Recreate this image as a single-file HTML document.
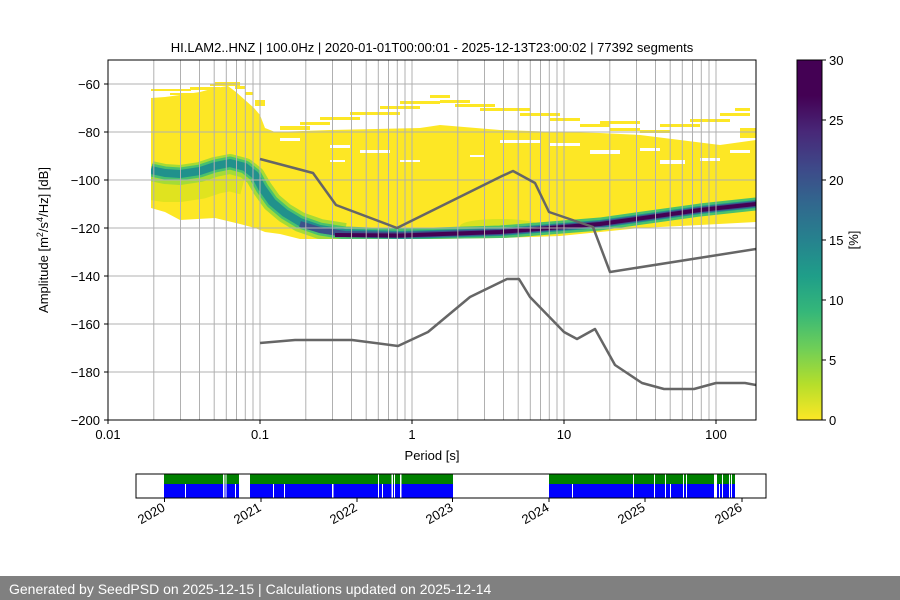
<!DOCTYPE html>
<html><head><meta charset="utf-8"><style>
body{margin:0;background:#fff}
svg{display:block;font-family:"Liberation Sans","DejaVu Sans",sans-serif}
</style></head><body>
<svg width="900" height="600" viewBox="0 0 900 600" xmlns="http://www.w3.org/2000/svg">
<defs>
<clipPath id="ax"><rect x="108" y="60" width="648" height="360"/></clipPath>
<clipPath id="dat"><polygon points="151,98 165,97 180,95 200,92 215,88 228,86 236,92 245,100 254,108 260,115 265,128 275,132 330,130 420,128 440,125 500,130 560,132 600,133 640,135 680,140 720,145 756,140 756,222 700,225 640,228 600,232 560,236 500,238 430,239 300,239 280,234 265,232 255,228 240,224 215,218 180,220 165,212 151,208"/></clipPath>
<linearGradient id="cb" x1="0" y1="1" x2="0" y2="0">
<stop offset="0" stop-color="#fde725"/><stop offset="0.1" stop-color="#b5de2b"/><stop offset="0.2" stop-color="#6ece58"/><stop offset="0.3" stop-color="#35b779"/><stop offset="0.4" stop-color="#1f9e89"/><stop offset="0.5" stop-color="#26828e"/><stop offset="0.6" stop-color="#31688e"/><stop offset="0.7" stop-color="#3e4989"/><stop offset="0.8" stop-color="#482878"/><stop offset="0.9" stop-color="#440154"/><stop offset="1" stop-color="#440154"/>
</linearGradient>
</defs>
<text x="432" y="52" font-size="13" text-anchor="middle">HI.LAM2..HNZ | 100.0Hz | 2020-01-01T00:00:01 - 2025-12-13T23:00:02 | 77392 segments</text>
<g clip-path="url(#ax)">
<polygon fill="#fde725" points="151,98 165,97 180,95 200,92 215,88 228,86 236,92 245,100 254,108 260,115 265,128 275,132 330,130 420,128 440,125 500,130 560,132 600,133 640,135 680,140 720,145 756,140 756,222 700,225 640,228 600,232 560,236 500,238 430,239 300,239 280,234 265,232 255,228 240,224 215,218 180,220 165,212 151,208"/>
<g fill="#fde725">
<rect x="151" y="89" width="40" height="2"/><rect x="170" y="93" width="30" height="2"/><rect x="190" y="87" width="30" height="3"/><rect x="210" y="84" width="30" height="2"/><rect x="215" y="82" width="25" height="2"/><rect x="235" y="86" width="10" height="3"/><rect x="245" y="92" width="8" height="3"/><rect x="255" y="100" width="10" height="6"/>
<rect x="280" y="126" width="30" height="4"/><rect x="300" y="122" width="30" height="3"/><rect x="320" y="117" width="40" height="3"/><rect x="350" y="112" width="50" height="3"/><rect x="380" y="106" width="40" height="3"/><rect x="400" y="101" width="40" height="3"/><rect x="430" y="95" width="20" height="3"/><rect x="440" y="100" width="30" height="3"/><rect x="455" y="104" width="40" height="3"/><rect x="480" y="108" width="50" height="3"/><rect x="520" y="113" width="40" height="3"/><rect x="550" y="118" width="30" height="3"/><rect x="580" y="124" width="30" height="3"/><rect x="600" y="121" width="40" height="3"/><rect x="610" y="128" width="30" height="3"/><rect x="640" y="130" width="30" height="3"/><rect x="660" y="124" width="40" height="3"/><rect x="690" y="119" width="40" height="3"/><rect x="720" y="113" width="30" height="3"/><rect x="735" y="108" width="15" height="3"/><rect x="740" y="128" width="16" height="10"/>
</g>
<g fill="#fff">
<rect x="280" y="138" width="20" height="3"/><rect x="330" y="145" width="20" height="3"/><rect x="360" y="150" width="30" height="3"/><rect x="400" y="160" width="20" height="2"/><rect x="330" y="160" width="15" height="2"/><rect x="500" y="140" width="40" height="3"/><rect x="550" y="143" width="30" height="3"/><rect x="590" y="150" width="30" height="4"/><rect x="640" y="148" width="20" height="3"/><rect x="660" y="160" width="25" height="4"/><rect x="700" y="158" width="20" height="3"/><rect x="470" y="155" width="15" height="2"/><rect x="730" y="150" width="20" height="3"/>
</g>
<g clip-path="url(#dat)">
<ellipse cx="500" cy="226" rx="40" ry="7" fill="#c8e020" opacity="0.7"/>
<polyline fill="none" stroke-linejoin="round" stroke="#e0e31f" stroke-width="36" points="151,182 165,184 180,184 200,181 215,176 230,173 245,177"/>
<polyline fill="none" stroke-linejoin="round" stroke="#a5db36" stroke-width="20" points="151,171 165,174 180,175 200,172 215,167 230,164 245,168 255,176 262,188 272,202 285,213 300,222 320,229 345,233"/>
<polyline fill="none" stroke-linejoin="round" stroke="#4ac16d" stroke-width="13" points="151,170 165,173 180,174 200,171 215,166 230,163 245,167 255,175 262,188 272,202 285,213 300,222 320,229 345,233 400,235 500,232 600,224 700,210 756,204"/>
<polyline fill="none" stroke-linejoin="round" stroke="#21918c" stroke-width="8" points="151,170 165,173 180,174 200,171 215,166 230,163 245,167 255,175 262,188 272,202 285,213 300,222 320,229 345,233 400,235 500,232 600,224 700,210 756,204"/>
<polyline fill="none" stroke-linejoin="round" stroke="#3b528b" stroke-width="6" points="300,224 320,230 345,234 400,235 500,232 600,224 700,210 756,204"/>
<polyline fill="none" stroke-linejoin="round" stroke="#440154" stroke-width="4" points="335,235 400,235.5 500,232 600,224 700,210 756,204"/>
</g>
</g>
<g stroke="#b0b0b0" stroke-width="1">
<line x1="153.8" y1="60" x2="153.8" y2="420"/><line x1="180.5" y1="60" x2="180.5" y2="420"/><line x1="199.5" y1="60" x2="199.5" y2="420"/><line x1="214.2" y1="60" x2="214.2" y2="420"/><line x1="226.3" y1="60" x2="226.3" y2="420"/><line x1="236.5" y1="60" x2="236.5" y2="420"/><line x1="245.3" y1="60" x2="245.3" y2="420"/><line x1="253" y1="60" x2="253" y2="420"/><line x1="260" y1="60" x2="260" y2="420"/>
<line x1="305.8" y1="60" x2="305.8" y2="420"/><line x1="332.5" y1="60" x2="332.5" y2="420"/><line x1="351.5" y1="60" x2="351.5" y2="420"/><line x1="366.2" y1="60" x2="366.2" y2="420"/><line x1="378.3" y1="60" x2="378.3" y2="420"/><line x1="388.5" y1="60" x2="388.5" y2="420"/><line x1="397.3" y1="60" x2="397.3" y2="420"/><line x1="405" y1="60" x2="405" y2="420"/><line x1="412" y1="60" x2="412" y2="420"/>
<line x1="457.8" y1="60" x2="457.8" y2="420"/><line x1="484.5" y1="60" x2="484.5" y2="420"/><line x1="503.5" y1="60" x2="503.5" y2="420"/><line x1="518.2" y1="60" x2="518.2" y2="420"/><line x1="530.3" y1="60" x2="530.3" y2="420"/><line x1="540.5" y1="60" x2="540.5" y2="420"/><line x1="549.3" y1="60" x2="549.3" y2="420"/><line x1="557" y1="60" x2="557" y2="420"/><line x1="564" y1="60" x2="564" y2="420"/>
<line x1="609.8" y1="60" x2="609.8" y2="420"/><line x1="636.5" y1="60" x2="636.5" y2="420"/><line x1="655.5" y1="60" x2="655.5" y2="420"/><line x1="670.2" y1="60" x2="670.2" y2="420"/><line x1="682.3" y1="60" x2="682.3" y2="420"/><line x1="692.5" y1="60" x2="692.5" y2="420"/><line x1="701.3" y1="60" x2="701.3" y2="420"/><line x1="709" y1="60" x2="709" y2="420"/><line x1="716" y1="60" x2="716" y2="420"/>
<line x1="108" y1="84" x2="756" y2="84"/><line x1="108" y1="132" x2="756" y2="132"/><line x1="108" y1="180" x2="756" y2="180"/><line x1="108" y1="228" x2="756" y2="228"/><line x1="108" y1="276" x2="756" y2="276"/><line x1="108" y1="324" x2="756" y2="324"/><line x1="108" y1="372" x2="756" y2="372"/>
</g>
<g clip-path="url(#ax)" fill="none" stroke="#666" stroke-width="2.5" stroke-linejoin="round">
<polyline points="260,159 313,173 336,205 397,228 502,176 513,171 535,183 549,212 593,227 610,272 756,249"/>
<polyline points="260,343 295,340 352,340 398,346 428,332 470,297 507,279 519,279 530,297 564,332 577,339 595,329 615,365 642,383 664,389 694,389 716,383 745,383 756,385"/>
</g>
<rect x="108" y="60" width="648" height="360" fill="none" stroke="#000" stroke-width="1"/>
<g stroke="#000"><line x1="108" y1="420" x2="108" y2="424"/><line x1="260" y1="420" x2="260" y2="424"/><line x1="412" y1="420" x2="412" y2="424"/><line x1="564" y1="420" x2="564" y2="424"/><line x1="716" y1="420" x2="716" y2="424"/>
<line x1="104" y1="84" x2="108" y2="84"/><line x1="104" y1="132" x2="108" y2="132"/><line x1="104" y1="180" x2="108" y2="180"/><line x1="104" y1="228" x2="108" y2="228"/><line x1="104" y1="276" x2="108" y2="276"/><line x1="104" y1="324" x2="108" y2="324"/><line x1="104" y1="372" x2="108" y2="372"/><line x1="104" y1="420" x2="108" y2="420"/></g>
<g font-size="13" text-anchor="middle"><text x="108" y="439">0.01</text><text x="260" y="439">0.1</text><text x="412" y="439">1</text><text x="564" y="439">10</text><text x="716" y="439">100</text></g>
<g font-size="13" text-anchor="end"><text x="100" y="89">−60</text><text x="100" y="137">−80</text><text x="100" y="185">−100</text><text x="100" y="233">−120</text><text x="100" y="281">−140</text><text x="100" y="329">−160</text><text x="100" y="377">−180</text><text x="100" y="425">−200</text></g>
<text x="432" y="460" font-size="13" text-anchor="middle">Period [s]</text>
<text transform="translate(48,240) rotate(-90)" font-size="13" text-anchor="middle">Amplitude [m<tspan font-size="9" dy="-5">2</tspan><tspan dy="5">/s</tspan><tspan font-size="9" dy="-5">4</tspan><tspan dy="5">/Hz] [dB]</tspan></text>
<rect x="797" y="60" width="25" height="360" fill="url(#cb)" stroke="#000" stroke-width="1"/>
<g stroke="#000"><line x1="822" y1="60" x2="826" y2="60"/><line x1="822" y1="120" x2="826" y2="120"/><line x1="822" y1="180" x2="826" y2="180"/><line x1="822" y1="240" x2="826" y2="240"/><line x1="822" y1="300" x2="826" y2="300"/><line x1="822" y1="360" x2="826" y2="360"/><line x1="822" y1="420" x2="826" y2="420"/></g>
<g font-size="13"><text x="829" y="65">30</text><text x="829" y="125">25</text><text x="829" y="185">20</text><text x="829" y="245">15</text><text x="829" y="305">10</text><text x="829" y="365">5</text><text x="829" y="425">0</text></g>
<text transform="translate(858,240) rotate(-90)" font-size="13" text-anchor="middle">[%]</text>
<g>
<rect x="164" y="474" width="75" height="10" fill="#008000"/><rect x="164" y="484" width="75" height="14" fill="#0000ff"/>
<rect x="250" y="474" width="203" height="10" fill="#008000"/><rect x="250" y="484" width="203" height="14" fill="#0000ff"/>
<rect x="549" y="474" width="186" height="10" fill="#008000"/><rect x="549" y="484" width="186" height="14" fill="#0000ff"/>
<g fill="#fff"><rect x="185" y="484" width="1" height="14"/><rect x="223" y="474" width="1.5" height="24"/><rect x="225.5" y="474" width="1" height="24"/><rect x="235" y="484" width="1" height="14"/><rect x="273" y="484" width="1" height="14"/><rect x="284" y="484" width="1" height="14"/><rect x="332" y="484" width="1.5" height="14"/><rect x="378" y="474" width="1" height="24"/><rect x="382" y="484" width="1" height="14"/><rect x="391.5" y="474" width="1.5" height="24"/><rect x="394" y="474" width="1" height="24"/><rect x="400" y="474" width="1.5" height="24"/>
<rect x="572" y="484" width="1" height="14"/><rect x="633" y="474" width="1" height="24"/><rect x="654" y="474" width="1" height="24"/><rect x="665" y="474" width="1" height="24"/><rect x="670" y="484" width="1" height="14"/><rect x="683" y="474" width="1" height="24"/><rect x="686" y="474" width="1" height="24"/><rect x="714" y="474" width="3" height="24"/><rect x="719" y="484" width="1" height="14"/><rect x="722" y="474" width="1" height="24"/><rect x="729" y="474" width="1" height="24"/><rect x="731" y="474" width="1" height="24"/></g>
<rect x="136" y="474" width="630" height="24" fill="none" stroke="#000" stroke-width="1"/>
<g stroke="#000"><line x1="164.5" y1="498" x2="164.5" y2="502"/><line x1="261" y1="498" x2="261" y2="502"/><line x1="357" y1="498" x2="357" y2="502"/><line x1="452.5" y1="498" x2="452.5" y2="502"/><line x1="549" y1="498" x2="549" y2="502"/><line x1="645" y1="498" x2="645" y2="502"/><line x1="742" y1="498" x2="742" y2="502"/></g>
<g font-size="13" text-anchor="end"><text transform="translate(166,510) rotate(-30)">2020</text><text transform="translate(262,510) rotate(-30)">2021</text><text transform="translate(358,510) rotate(-30)">2022</text><text transform="translate(454,510) rotate(-30)">2023</text><text transform="translate(550,510) rotate(-30)">2024</text><text transform="translate(646,510) rotate(-30)">2025</text><text transform="translate(743,510) rotate(-30)">2026</text></g>
</g>
<rect x="0" y="576" width="900" height="24" fill="#808080"/>
<text x="9" y="594" font-size="14" fill="#fff">Generated by SeedPSD on 2025-12-15 | Calculations updated on 2025-12-14</text>
</svg>
</body></html>
